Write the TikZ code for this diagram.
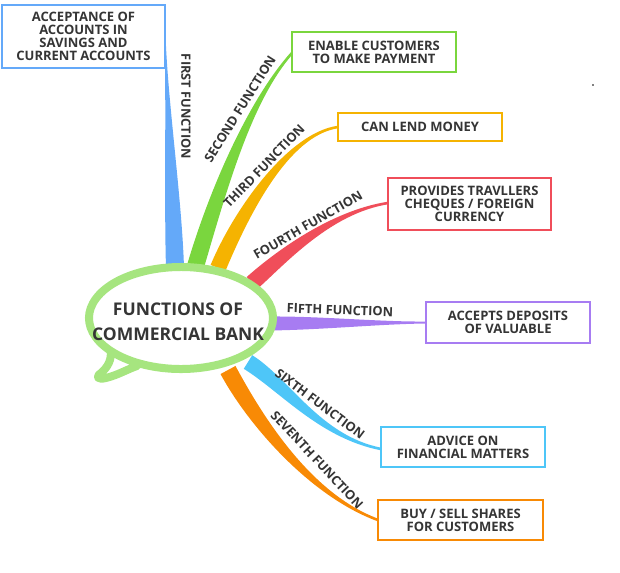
\documentclass[tikz,border=0pt]{standalone}
\usepackage{fontspec}
\setmainfont{Open Sans}
\usetikzlibrary{calc}
\definecolor{cblue}{HTML}{64A9F9}
\definecolor{cgreen}{HTML}{7AD63E}
\definecolor{cyellow}{HTML}{F5B301}
\definecolor{cred}{HTML}{F04E5A}
\definecolor{cpurple}{HTML}{A77CF2}
\definecolor{clblue}{HTML}{4EC6F8}
\definecolor{corange}{HTML}{F88A05}
\definecolor{bub}{HTML}{A6E57F}
\definecolor{txt}{HTML}{353535}
\newcommand{\mmbranch}[7]{%
  \fill[#1] ($(#2)!#6!90:(#3)$) .. controls ($(#3)!#6!-90:(#2)$) and ($(#4)!#7!90:(#5)$) .. ($(#5)!#7!-90:(#4)$)
    -- ($(#5)!#7!90:(#4)$) .. controls ($(#4)!#7!-90:(#5)$) and ($(#3)!#6!90:(#2)$) .. ($(#2)!#6!-90:(#3)$) -- cycle;}
\tikzset{
  box/.style={draw=#1, line width=1.5pt, fill=white, inner sep=0pt, align=center,
    text=txt, font=\bfseries\fontsize{13}{13}\selectfont},
  lbl/.style={text=txt, inner sep=0pt, font=\bfseries\fontsize{12.8}{13}\selectfont},
}
\begin{document}
\begin{tikzpicture}[x=1pt,y=-1pt]
\useasboundingbox (0,0) rectangle (620,572);
% box positions
\coordinate (b1) at (83.5,36.5);
\coordinate (b2) at (374,52);
\coordinate (b3) at (420,127);
\coordinate (b4) at (469.5,204);
\coordinate (b5) at (508,322.5);
\coordinate (b6) at (463,447);
\coordinate (b7) at (460.5,520);
\coordinate (e1) at (165,36.5);
\coordinate (e2) at (292,53);
\coordinate (e3) at (338,127);
\coordinate (e4) at (388,203);
\coordinate (e5) at (426,322.5);
\coordinate (e6) at (381,449);
\coordinate (e7) at (378,520);
% branch coordinates
\coordinate (s1) at (175,268); \coordinate (p1a) at (173,200); \coordinate (p1b) at (167,100);
\coordinate (s2) at (195,268); \coordinate (p2a) at (218,190); \coordinate (p2b) at (250,100);
\coordinate (s3) at (218,268); \coordinate (p3a) at (241,213); \coordinate (p3b) at (288,134);
\coordinate (s4) at (252,283); \coordinate (p4a) at (279,259); \coordinate (p4b) at (330,212);
\coordinate (s5) at (268,323.5); \coordinate (p5a) at (320,323); \coordinate (p5b) at (380,323);
\coordinate (s6) at (248,362); \coordinate (p6a) at (285,385); \coordinate (p6b) at (320,437);
\coordinate (s7) at (228,370); \coordinate (p7a) at (255,420); \coordinate (p7b) at (310,495);
\mmbranch{cblue}{s1}{p1a}{p1b}{e1}{9pt}{0.6pt}
\mmbranch{cgreen}{s2}{p2a}{p2b}{e2}{8.5pt}{1.3pt}
\mmbranch{cyellow}{s3}{p3a}{p3b}{e3}{8pt}{1.3pt}
\mmbranch{cred}{s4}{p4a}{p4b}{e4}{8pt}{1.3pt}
\mmbranch{cpurple}{s5}{p5a}{p5b}{e5}{7pt}{1pt}
\mmbranch{clblue}{s6}{p6a}{p6b}{e6}{8pt}{1.3pt}
\mmbranch{corange}{s7}{p7a}{p7b}{e7}{8.5pt}{1.3pt}
% boxes
\node[box=cblue, minimum width=163pt, minimum height=63pt] (n1) at (b1) {ACCEPTANCE OF\\ACCOUNTS IN\\SAVINGS AND\\CURRENT ACCOUNTS};
\node[box=cgreen, minimum width=164pt, minimum height=40pt] (n2) at (b2) {ENABLE CUSTOMERS\\TO MAKE PAYMENT};
\node[box=cyellow, minimum width=164pt, minimum height=28pt] (n3) at (b3) {CAN LEND MONEY};
\node[box=cred, minimum width=163pt, minimum height=52pt] (n4) at (b4) {PROVIDES TRAVLLERS\\CHEQUES / FOREIGN\\CURRENCY};
\node[box=cpurple, minimum width=164pt, minimum height=41pt] (n5) at (b5) {ACCEPTS DEPOSITS\\OF VALUABLE};
\node[box=clblue, minimum width=164pt, minimum height=40pt] (n6) at (b6) {ADVICE ON\\FINANCIAL MATTERS};
\node[box=corange, minimum width=165pt, minimum height=40pt] (n7) at (b7) {BUY / SELL SHARES\\FOR CUSTOMERS};
% bubble
\fill[white] (181,318) ellipse [x radius=92, y radius=51];
\draw[bub, line width=8pt, line cap=round, line join=round]
  (145.05,364.95) arc [start angle=113, end angle=500, x radius=92, y radius=51]
  .. controls (112,359) and (108,367) .. (101,373)
  .. controls (95,377) and (98,380) .. (106,378)
  .. controls (118,375) and (128,369) .. (137,366);
\node[text=txt, align=center, inner sep=0pt, font=\bfseries\fontsize{17.5}{25}\selectfont] (c) at (178,322) {FUNCTIONS OF\\COMMERCIAL BANK};
% labels
\node[lbl, rotate=-90] (l1) at (186,106.5) {FIRST FUNCTION};
\node[lbl, rotate=58] (l2) at (240,109) {SECOND FUNCTION};
\node[lbl, rotate=46] (l3) at (264,166) {THIRD FUNCTION};
\node[lbl, rotate=30] (l4) at (308,225) {FOURTH FUNCTION};
\node[lbl, rotate=-2] (l5) at (340,310) {FIFTH FUNCTION};
\node[lbl, rotate=-37] (l6) at (320,404) {SIXTH FUNCTION};
\node[lbl, rotate=-47] (l7) at (317,460) {SEVENTH FUNCTION};
\fill[black] (593,85) circle[radius=0.8pt];
\end{tikzpicture}
\end{document}
